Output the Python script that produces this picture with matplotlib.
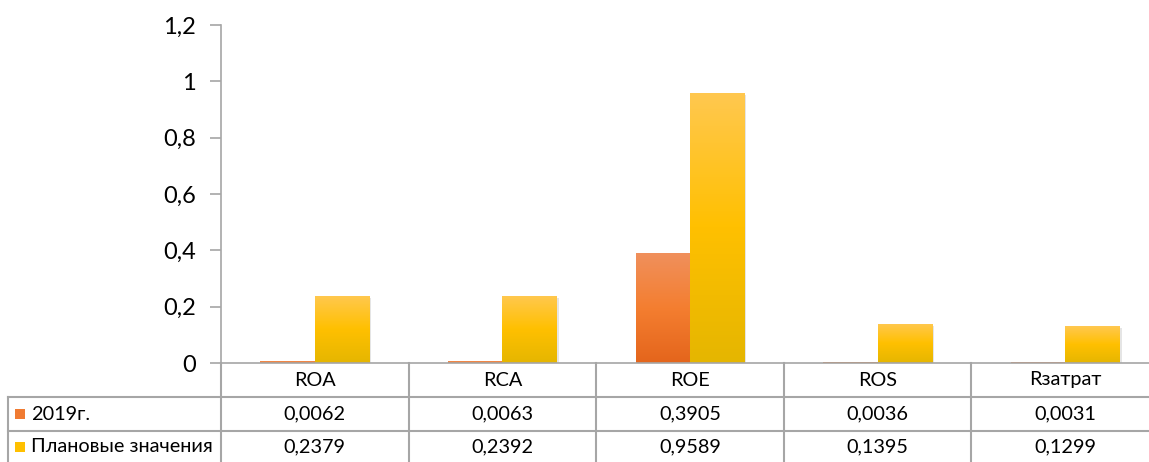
import matplotlib
matplotlib.use("Agg")
import matplotlib.pyplot as plt
import matplotlib.patheffects as pe
import numpy as np
from matplotlib.colors import LinearSegmentedColormap
from matplotlib.transforms import blended_transform_factory

categories = ["ROA", "RCA", "ROE", "ROS", "Rзатрат"]
series_names = ["2019г.", "Плановые значения"]
values_2019 = [0.0062, 0.0063, 0.3905, 0.0036, 0.0031]
values_plan = [0.2379, 0.2392, 0.9589, 0.1395, 0.1299]
yticks = [0, 0.2, 0.4, 0.6, 0.8, 1.0, 1.2]
ytick_labels = ["0", "0,2", "0,4", "0,6", "0,8", "1", "1,2"]

W, H = 1149, 462
plt.rcParams["font.family"] = ["Lato", "DejaVu Sans"]
fig = plt.figure(figsize=(W / 100, H / 100), dpi=100)

# the plot area runs a little past the right edge of the canvas
ax_left, ax_right, ax_top, ax_bottom = 221, 1159, 25, 363
ax = fig.add_axes([ax_left / W, 1 - ax_bottom / H,
                   (ax_right - ax_left) / W, (ax_bottom - ax_top) / H])

grid_col = "#A6A6A6"
orange_cmap = LinearSegmentedColormap.from_list("o", ["#E4651C", "#F47E30", "#F0905C"])
yellow_cmap = LinearSegmentedColormap.from_list("y", ["#E5B600", "#FFC000", "#FFC850"])
swatch = {"2019г.": "#F07B32", "Плановые значения": "#FFC000"}

x = np.arange(len(categories))
width = 0.29


def gradient_bars(xs, vals, cmap):
    bars = ax.bar(xs, vals, width, color="none", linewidth=0, zorder=2)
    grad = np.linspace(0, 1, 256).reshape(-1, 1)
    for b in bars:
        h = b.get_height()
        if h <= 0:
            continue
        x0 = b.get_x()
        shadow = plt.Rectangle((x0, 0), b.get_width(), h, color="none",
                               path_effects=[pe.SimplePatchShadow(offset=(1.5, -1.5), shadow_rgbFace="#000000", alpha=0.1)],
                               zorder=1.5)
        ax.add_patch(shadow)
        im = ax.imshow(grad, cmap=cmap, origin="lower", aspect="auto",
                       extent=(x0, x0 + b.get_width(), 0, h), zorder=2)
        im.set_clip_path(b)
    return bars


gradient_bars(x - width / 2, values_2019, orange_cmap)
gradient_bars(x + width / 2, values_plan, yellow_cmap)

ax.set_xlim(-0.5, len(categories) - 0.5)
ax.set_ylim(0, 1.2)
ax.set_yticks(yticks)
ax.set_yticklabels(ytick_labels, fontsize=17)
ax.set_xticks([])
for s in ["top", "right"]:
    ax.spines[s].set_visible(False)
ax.spines["left"].set_color(grid_col)
ax.spines["bottom"].set_color(grid_col)
ax.spines["left"].set_linewidth(1.2)
ax.spines["bottom"].set_linewidth(1.2)
ax.tick_params(axis="y", length=8, color=grid_col, width=1.2, pad=10)
ax.set_facecolor("none")

# data table below the plot: x follows category columns, y in pixel rows
tr = blended_transform_factory(ax.transData, fig.transFigure)
tf = fig.transFigure


def fy(py):
    return 1 - py / H


row_lines = [397, 431]
table_left = 8
for py in row_lines:
    fig.add_artist(plt.Line2D([table_left / W, 1], [fy(py), fy(py)], color=grid_col, lw=1.5, transform=tf))
fig.add_artist(plt.Line2D([table_left / W, table_left / W], [fy(397), 0], color=grid_col, lw=1.5, transform=tf))
fig.add_artist(plt.Line2D([ax_left / W, ax_left / W], [fy(363), 0], color=grid_col, lw=1.5, transform=tf))
for b in np.arange(0.5, len(categories) - 1, 1.0):
    fig.add_artist(plt.Line2D([b, b], [fy(363), 0], color=grid_col, lw=1.5, transform=tr))

text_kw = dict(fontsize=14.3, color="#000000", va="center")
for i, cat in enumerate(categories):
    fig.text(i, fy(380), cat, transform=tr, ha="center", **text_kw)
row_y = [414, 447]
for name, vals, py in zip(series_names, [values_2019, values_plan], row_y):
    fig.add_artist(plt.Rectangle((15 / W, fy(py + 5)), 10 / W, 10 / H, transform=tf,
                                 facecolor=swatch[name], edgecolor="none"))
    fig.text(31 / W, fy(py), name, transform=tf, ha="left", **text_kw)
    for i, v in enumerate(vals):
        fig.text(i, fy(py), f"{v:.4f}".replace(".", ","), transform=tr, ha="center", **text_kw)

fig.savefig("out.png", dpi=100)
